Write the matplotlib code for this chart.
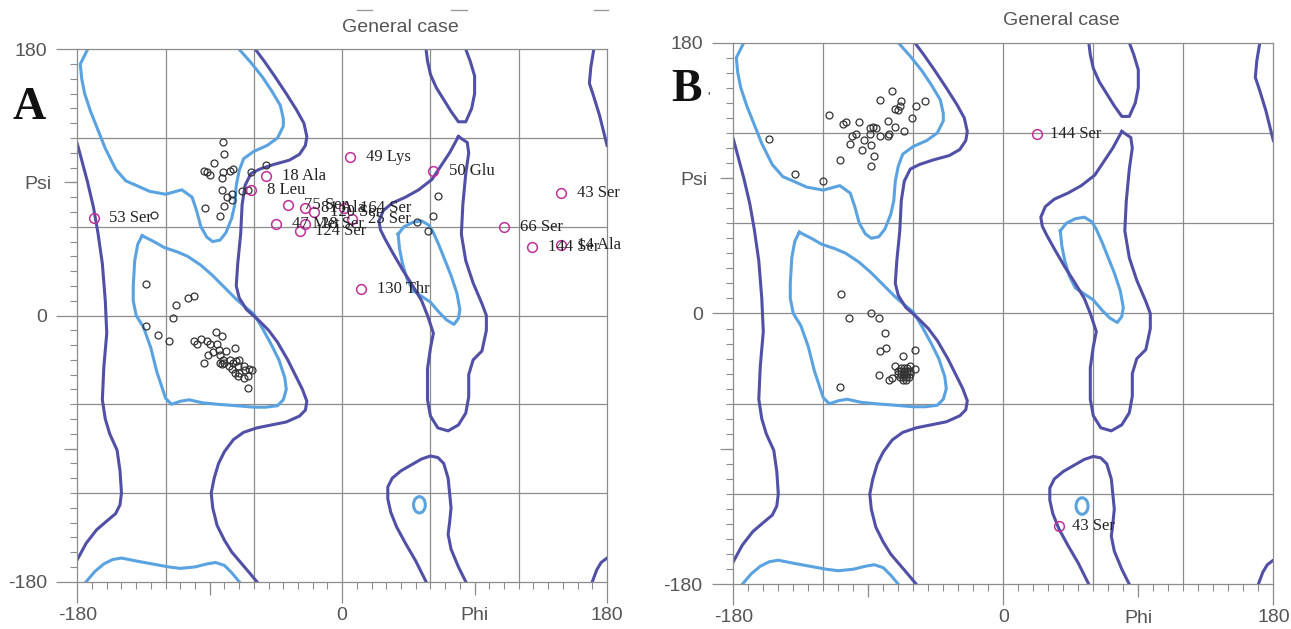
import matplotlib.pyplot as plt
from matplotlib.patches import Ellipse
from matplotlib.lines import Line2D
from matplotlib.ticker import MultipleLocator

plt.rcParams['font.family'] = ['Liberation Sans', 'DejaVu Sans']

# ---- Ramachandran contours (general case), phi / psi in degrees ----
light_beta_phi = [-173, -178, -177, -175, -171, -167, -161, -154, -147, -140, -131, -120, -109, -102, -99, -96, -92, -88,
                  -83, -79, -75, -73, -72, -70, -67, -60, -51, -44, -40, -40, -42, -48, -54, -62, -70]
light_beta_psi = [180, 170, 160, 150, 138, 128, 113, 99, 91, 88, 84, 82, 85, 80, 71, 60, 53, 50,
                  51, 56, 66, 75, 88, 98, 106, 111, 115, 120, 128, 133, 142, 152, 161, 171, 180]
light_beta_bottom_phi = [-174, -168, -162, -156, -150, -140, -129, -118, -110, -100, -92, -86, -80, -75, -70]
light_beta_bottom_psi = [-180, -173, -168, -165, -164, -166, -168, -170, -171, -170, -168, -167, -169, -174, -180]
light_alpha_phi = [-136, -128, -121, -112, -105, -96, -88, -80, -72, -65, -60, -54, -48, -43, -39, -38, -40, -44, -52,
                   -60, -72, -85, -95, -104, -110, -116, -120, -122, -126, -130, -135, -140, -142, -142, -141, -139, -136]
light_alpha_psi = [54, 50, 46, 43, 40, 34, 27, 19, 11, 5, 1, -9, -20, -30, -42, -50, -57, -61, -62,
                   -62, -61, -60, -59, -57, -58, -60, -56, -50, -38, -22, -8, 0, 10, 20, 37, 48, 54]
light_lalpha_phi = [38, 42, 48, 54, 59, 62, 66, 70, 74, 78, 80, 79, 76, 71, 66, 60, 54, 48, 44, 41, 39, 38]
light_lalpha_psi = [55, 60, 63, 64, 61, 56, 47, 37, 27, 15, 4, -2, -6, -3, 2, 9, 13, 17, 25, 35, 45, 55]
light_oval = (52.5, -128, 8, 11)  # centre phi, centre psi, width, height

dark_left_phi = [-180, -177, -173, -169, -166, -163, -161, -160, -162, -163, -161, -158, -153, -151, -150, -151, -154,
                 -160, -167, -174, -180]
dark_left_psi = [116, 105, 90, 73, 56, 35, 10, -12, -35, -57, -70, -80, -91, -105, -120, -128, -134,
                 -139, -145, -154, -165]
dark_right_top_phi = [171, 169, 168, 171, 175, 180]
dark_right_top_psi = [180, 168, 157, 148, 135, 115]
dark_right_bottom_phi = [170, 173, 176, 180]
dark_right_bottom_psi = [-180, -172, -167, -164]
dark_main_phi = [-59, -53, -46, -38, -31, -26, -24, -25, -29, -36, -47, -56, -62, -66, -68, -69, -71, -72, -70, -65,
                 -57, -50, -44, -37, -32, -27, -24, -25, -29, -38, -48, -58, -67, -74, -80, -84, -87, -89, -88, -85,
                 -80, -75, -69, -63, -58]
dark_main_psi = [180, 172, 162, 150, 139, 130, 121, 115, 109, 105, 102, 99, 96, 88, 75, 55, 35, 20, 12, 4,
                 -3, -10, -18, -30, -40, -50, -58, -64, -68, -72, -74, -76, -79, -84, -92, -100, -110, -120, -130, -142,
                 -152, -160, -167, -174, -180]
dark_top_right_phi = [57, 58, 60, 64, 69, 74, 79, 84, 88, 90, 90, 87, 84]
dark_top_right_psi = [180, 172, 163, 154, 146, 138, 131, 131, 140, 150, 162, 172, 180]
dark_bottom_right_phi = [57, 50, 43, 37, 33, 31, 31, 34, 40, 47, 54, 60, 65, 69, 72, 73, 74, 73, 72, 74, 79, 84]
dark_bottom_right_psi = [-180, -166, -154, -143, -133, -124, -116, -110, -105, -101, -97, -95, -96, -100, -110, -120,
                         -130, -140, -148, -158, -170, -180]
dark_mid_right_phi = [79, 85, 86, 84, 82, 81, 84, 89, 95, 98, 98, 95, 89, 86, 86, 84, 79, 72, 65, 60,
                      58, 58, 60, 62, 58, 54, 48, 41, 34, 29, 26, 25, 28, 34, 43, 52, 61, 67, 73, 79]
dark_mid_right_psi = [121, 117, 110, 96, 75, 55, 37, 22, 8, 0, -10, -24, -30, -40, -55, -66, -74, -78, -76, -68,
                      -57, -36, -22, -12, 0, 10, 20, 31, 43, 52, 58, 64, 71, 76, 80, 85, 92, 101, 110, 121]

# ---- Panel A residues ----
a_beta_phi = [-81, -80, -87, -94, -92, -90, -81, -76, -74, -82, -62, -52, -82, -75, -78, -75, -68, -64, -93, -80, -83,
              -128, 65, 62, 51, 58]
a_beta_psi = [117, 109, 103, 98, 97, 95, 97, 98, 99, 93, 97, 102, 85, 82, 80, 78, 84, 85, 73, 74, 67,
              68, 81, 67, 63, 57]
a_alpha_phi = [-133, -113, -105, -101, -115, -133, -125, -118, -86, -82, -101, -99, -96, -92, -90, -85, -94, -91, -88,
               -84, -83, -81, -79, -83, -73, -76, -74, -72, -70, -67, -75, -73, -70, -66, -63, -61, -64, -67, -71, -64,
               -80, -77, -71, -82]
a_alpha_psi = [21, 7, 12, 13, -2, -7, -13, -17, -11, -14, -17, -19, -16, -17, -19, -19, -32, -27, -25,
               -23, -27, -30, -24, -32, -22, -30, -32, -31, -30, -34, -36, -39, -39, -37, -36, -37, -41, -42, -41, -49,
               -32, -34, -34, -33]
a_out_names = ['53 Ser', '18 Ala', '8 Leu', '49 Lys', '50 Glu', '75 Ser', '81 Ala', '120 Ser', '164 Ser', '25 Ser',
               '47 Met', '28 Ser', '124 Ser', '43 Ser', '66 Ser', '144 Ser', '14 Ala', '130 Thr']
a_out_phi = [-169, -52, -62, 5, 62, -37, -25, -19, 1, 7, -45, -25, -29, 149, 110, 129, 149, 13]
a_out_psi = [66, 94, 85, 107, 98, 75, 73, 70, 73, 65, 62, 62, 57, 83, 60, 46, 48, 18]

# ---- Panel B residues ----
b_beta_phi = [-74, -82, -68, -69, -72, -70, -58, -52, -116, -107, -105, -96, -77, -61, -87, -89, -85, -72, -66, -76,
              -77, -82, -89, -98, -101, -93, -102, -88, -94, -86, -109, -88, -156, -139, -120]
b_beta_psi = [148, 142, 141, 138, 136, 135, 138, 141, 132, 126, 127, 127, 128, 130, 124, 123, 123, 124, 121, 119,
              118, 118, 119, 119, 118, 115, 113, 112, 109, 105, 102, 98, 116, 93, 88]
b_alpha_phi = [-108, -103, -88, -83, -79, -82, -78, -67, -59, -72, -62, -59, -83, -76, -74, -109]
b_alpha_psi = [13, -3, 0, -3, -13, -25, -23, -28, -24, -35, -35, -37, -41, -44, -43, -49]
# dense helical blob
b_blob_phi = [-68, -66, -64, -70, -68, -66, -64, -62, -70, -68, -66, -64, -62, -69, -67, -65, -63, -67, -65, -66, -66]
b_blob_psi = [-36, -36, -36, -38, -38, -38, -38, -38, -40, -40, -40, -40, -40, -42, -42, -42, -42, -44, -44, -39, -41]
b_out_names = ['144 Ser', '43 Ser']
b_out_phi = [22.5, 37]
b_out_psi = [119, -141.5]

grid_steps = [-120, -60, 0, 60, 120]
LIGHT = '#5aa3e0'
DARK = '#5150a6'
MAGENTA = '#c0309a'
GRID = '#8c8c8c'
TXT = '#555555'

light_lines = [(light_beta_phi, light_beta_psi), (light_beta_bottom_phi, light_beta_bottom_psi),
               (light_alpha_phi, light_alpha_psi), (light_lalpha_phi, light_lalpha_psi)]
dark_lines = [(dark_left_phi, dark_left_psi), (dark_right_top_phi, dark_right_top_psi),
              (dark_right_bottom_phi, dark_right_bottom_psi), (dark_main_phi, dark_main_psi),
              (dark_top_right_phi, dark_top_right_psi), (dark_bottom_right_phi, dark_bottom_right_psi),
              (dark_mid_right_phi, dark_mid_right_psi)]


def draw_panel(ax, pts, out_phi, out_psi, out_names, lab_off):
    ax.set_xlim(-180, 180)
    ax.set_ylim(-180, 180)
    for g in grid_steps:
        ax.axvline(g, color=GRID, lw=0.9, zorder=0.5)
        ax.axhline(g, color=GRID, lw=0.9, zorder=0.5)
    for px, py in light_lines:
        ax.plot(px, py, color=LIGHT, lw=2.2, solid_joinstyle='round', zorder=2)
    for px, py in dark_lines:
        ax.plot(px, py, color=DARK, lw=2.2, solid_joinstyle='round', zorder=2)
    cx, cy, w, h = light_oval
    ax.add_patch(Ellipse((cx, cy), w, h, fill=False, ec=LIGHT, lw=2.2, zorder=2))

    for px, py in pts:
        ax.plot(px, py, 'o', mfc='none', mec='#333333', ms=5, mew=0.9, zorder=3)
    ax.plot(out_phi, out_psi, 'o', mfc='none', mec=MAGENTA, ms=7, mew=1.1, zorder=4)
    for name, x, y in zip(out_names, out_phi, out_psi):
        ax.annotate(name, (x, y), xytext=(lab_off, 0), textcoords='offset points', va='center', ha='left',
                    family='Liberation Serif', fontsize=12, color='#222222', zorder=5)

    for s in ax.spines.values():
        s.set_color(GRID)
        s.set_linewidth(0.9)

    ax.set_xticks([-180, 0, 180])
    ax.set_xticklabels(['-180', '0', '180'])
    ax.set_yticks([-180, 0, 180])
    ax.set_yticklabels(['-180', '0', '180'])
    ax.xaxis.set_minor_locator(MultipleLocator(10))
    ax.yaxis.set_minor_locator(MultipleLocator(10))
    ax.tick_params(which='major', direction='out', length=15, width=0.9, color=GRID, labelsize=14,
                   labelcolor=TXT)
    ax.tick_params(axis='x', which='major', pad=3)
    ax.tick_params(axis='y', which='major', pad=7)
    ax.tick_params(which='minor', direction='out', length=4.7, width=0.8, color=GRID)

    secx = ax.secondary_xaxis('bottom')
    secx.set_xticks([-90, 90])
    secx.set_xticklabels(['', 'Phi'])
    secx.tick_params(direction='out', length=9.4, width=0.9, color=GRID, labelsize=14, labelcolor=TXT, pad=9)
    secx.spines['bottom'].set_visible(False)
    secy = ax.secondary_yaxis('left')
    secy.set_yticks([-90, 90])
    secy.set_yticklabels(['', 'Psi'])
    secy.tick_params(direction='out', length=9.4, width=0.9, color=GRID, labelsize=14, labelcolor=TXT, pad=9)
    secy.spines['left'].set_visible(False)

    ax.annotate('General case', xy=(0, 1), xycoords=('data', 'axes fraction'), xytext=(0, 16),
                textcoords='offset points', ha='left', va='center', fontsize=14, color=TXT)


fig = plt.figure(figsize=(12.91, 6.29), dpi=100)
ax_a = fig.add_axes([0.0599, 0.0752, 0.4103, 0.8464])
ax_b = fig.add_axes([0.568, 0.0711, 0.4183, 0.861])

draw_panel(ax_a, [(a_beta_phi, a_beta_psi), (a_alpha_phi, a_alpha_psi)], a_out_phi, a_out_psi, a_out_names, 11.5)
draw_panel(ax_b, [(b_beta_phi, b_beta_psi), (b_alpha_phi, b_alpha_psi), (b_blob_phi, b_blob_psi)],
           b_out_phi, b_out_psi, b_out_names, 9.5)

fig.text(29 / 1291, 1 - 108 / 629, 'A', ha='center', va='center', fontsize=33, fontweight='bold',
         family='Liberation Serif', color='#111111')
fig.text(686 / 1291, 1 - 90 / 629, 'B', ha='center', va='center', fontsize=33, fontweight='bold',
         family='Liberation Serif', color='#111111')
fig.text(709 / 1291, 1 - 97 / 629, "'", ha='center', va='center', fontsize=9, color='#333333')

# short grey dashes left over at the top edge of panel A
for x0, x1 in [(357, 372), (451, 467), (594, 608)]:
    fig.add_artist(Line2D([x0 / 1291, x1 / 1291], [1 - 10 / 629] * 2, color='#999999', lw=1))

fig.savefig('out.png', dpi=100)
